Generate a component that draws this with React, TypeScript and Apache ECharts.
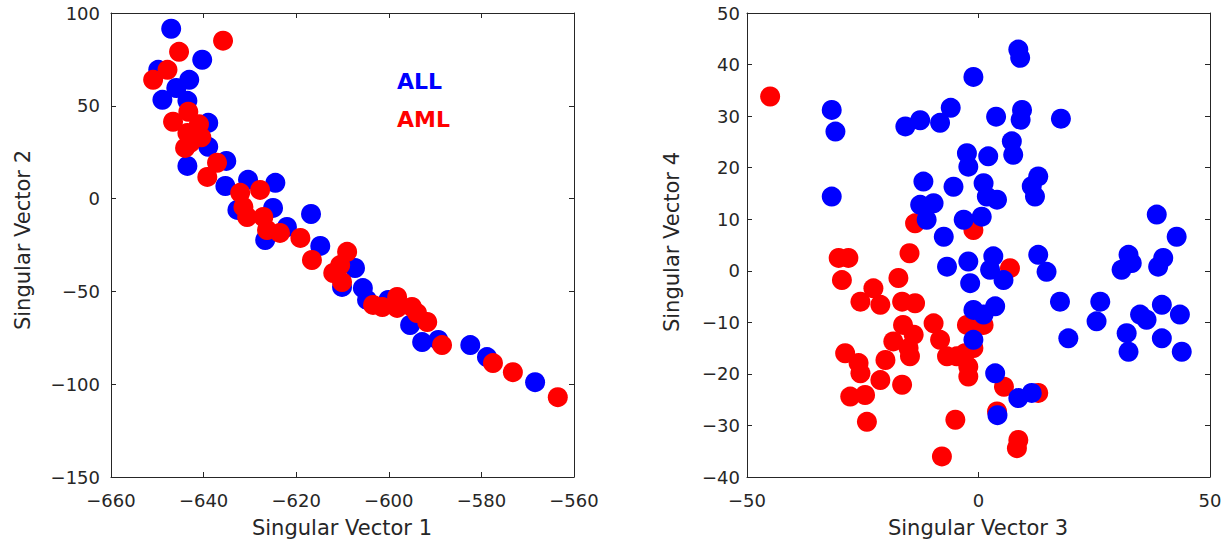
import React, { useEffect, useRef } from "react";
import * as echarts from "echarts";

// Singular vectors 1 & 2 (left panel)
const allSV12: [number, number][] = [
  [-647.0, 91.5], [-640.3, 74.8], [-649.8, 69.4], [-643.1, 64.0], [-648.9, 53.2],
  [-643.5, 52.7], [-645.9, 59.6], [-639.0, 40.8], [-639.0, 27.9], [-643.5, 17.6],
  [-635.1, 20.3], [-635.3, 6.8], [-630.4, 10.1], [-624.5, 8.5], [-632.7, -6.1],
  [-625.0, -5.0], [-616.8, -8.3], [-622.0, -15.3], [-626.7, -22.3], [-614.8, -25.5],
  [-607.3, -37.4], [-610.1, -47.6], [-605.6, -48.2], [-604.7, -54.6], [-600.1, -54.6],
  [-595.4, -68.1], [-592.8, -77.3], [-589.3, -76.2], [-582.4, -78.9], [-578.8, -85.4],
  [-568.4, -98.9],
];
const amlSV12: [number, number][] = [
  [-635.8, 85.1], [-645.3, 79.1], [-647.8, 69.4], [-650.9, 64.0], [-643.3, 46.8],
  [-646.6, 41.4], [-643.5, 35.4], [-642.9, 30.0], [-644.0, 27.3], [-641.0, 40.0],
  [-640.5, 33.0], [-637.1, 19.3],
  [-639.2, 11.7], [-632.1, 3.1], [-627.8, 4.7], [-631.4, -4.5], [-630.6, -9.9],
  [-627.1, -9.9], [-626.3, -16.9], [-623.5, -18.5], [-619.1, -21.2], [-616.6, -33.1],
  [-609.0, -28.7], [-610.5, -35.8], [-612.0, -40.1], [-610.1, -45.0], [-603.4, -57.3],
  [-601.4, -58.4], [-598.2, -53.0], [-598.2, -58.9], [-595.0, -58.4], [-593.9, -61.7],
  [-591.7, -66.5], [-588.5, -78.9], [-577.5, -88.6], [-573.2, -93.5], [-563.5, -107.0],
];

// Singular vectors 3 & 4 (right panel)
const allSV34: [number, number][] = [
  [-31.7, 31.2], [-30.9, 27.0], [-31.7, 14.4], [-15.8, 28.0], [-12.6, 29.2],
  [-8.3, 28.7], [-6.0, 31.6], [-1.1, 37.6], [3.8, 29.9], [-2.5, 22.8],
  [-2.2, 20.2], [2.1, 22.2], [-11.9, 17.3], [-5.4, 16.3], [1.1, 17.0],
  [-12.6, 12.8], [-9.7, 13.1], [-11.2, 9.9], [-7.5, 6.6], [-3.2, 9.9],
  [0.7, 10.5], [1.8, 14.4], [8.6, 42.9], [9.0, 41.3], [9.4, 31.2],
  [9.1, 29.3], [17.8, 29.5], [7.2, 25.1], [7.5, 22.5], [4.0, 13.8],
  [12.9, 18.3], [11.5, 16.4], [12.2, 14.4], [38.5, 10.9], [42.8, 6.6],
  [32.4, 3.1], [33.1, 1.5], [30.9, 0.2], [39.9, 2.5], [38.8, 0.8],
  [12.9, 3.1], [14.7, -0.2], [3.2, 2.8], [2.5, 0.2], [5.4, -1.8],
  [-2.2, 1.8], [-1.8, -2.4], [-6.8, 0.8], [17.6, -6.0], [26.3, -6.0],
  [25.5, -9.8], [19.4, -13.1], [34.9, -8.5], [36.3, -9.5], [32.0, -12.1],
  [32.4, -15.7], [39.6, -6.6], [43.5, -8.5], [39.6, -13.1], [43.9, -15.7],
  [-1.1, -7.6], [3.6, -6.9], [1.1, -8.5], [-1.1, -13.4], [3.6, -19.9],
  [8.6, -24.7], [11.5, -23.7], [4.1, -28.0],
];
const amlSV34: [number, number][] = [
  [-45.0, 33.8], [-13.7, 9.2], [-1.1, 7.9], [6.8, 0.5], [-0.4, -10.8],
  [1.1, -10.5], [-1.1, -15.0], [-4.7, -16.6], [5.5, -22.5], [12.9, -23.7],
  [4.0, -27.3], [-5.0, -28.9], [8.6, -32.8], [8.3, -34.4], [-30.2, 2.5],
  [-28.1, 2.5], [-29.5, -1.8], [-14.9, 3.4], [-17.3, -1.4], [-22.7, -3.4],
  [-25.5, -6.0], [-21.2, -6.6], [-16.5, -6.0], [-13.7, -6.3], [-16.3, -10.5],
  [-14.0, -12.4], [-18.4, -13.7], [-15.1, -15.0], [-14.8, -16.6], [-9.7, -10.2],
  [-8.3, -13.4], [-6.8, -16.6], [-2.5, -10.5], [-2.9, -16.0], [-2.2, -18.6],
  [-2.2, -20.5], [-28.8, -16.0], [-25.9, -17.9], [-25.5, -19.9], [-20.1, -17.3],
  [-21.2, -21.2], [-16.5, -22.1], [-27.7, -24.4], [-24.5, -24.1], [-24.1, -29.3],
  [-7.9, -36.0],
];

const axisTitles = ["Singular Vector 1", "Singular Vector 2", "Singular Vector 3", "Singular Vector 4"];
const legendLabels = ["ALL", "AML"];
const BLUE = "#0000ff";
const RED = "#ff0000";
const AX = "#262626";
const FONT = "DejaVu Sans";

const fmt = (v: number) => (v < 0 ? "\u2212" + Math.abs(v) : String(v));

function axis(
  gridIndex: number,
  position: string,
  min: number,
  max: number,
  interval: number,
  showLabel: boolean,
  margin: number
) {
  return {
    type: "value",
    gridIndex,
    position,
    min,
    max,
    interval,
    axisLine: { show: true, onZero: false, lineStyle: { color: AX, width: 1 } },
    axisTick: { show: true, inside: true, length: 5, lineStyle: { color: AX } },
    axisLabel: {
      show: showLabel,
      margin,
      color: AX,
      fontFamily: FONT,
      fontSize: 18,
      formatter: fmt,
    },
    splitLine: { show: false },
  };
}

export default function App() {
  const ref = useRef<HTMLDivElement>(null);
  useEffect(() => {
    if (!ref.current) return;
    const chart = echarts.init(ref.current, undefined, { renderer: "svg" });
    const option: any = {
      animation: false,
      backgroundColor: "#ffffff",
      grid: [
        { left: 111, top: 13, width: 463, height: 464 },
        { left: 747, top: 13, width: 463, height: 464 },
      ],
      xAxis: [
        axis(0, "bottom", -660, -560, 20, true, 14),
        axis(0, "top", -660, -560, 20, false, 8),
        axis(1, "bottom", -50, 50, 50, true, 14),
        axis(1, "top", -50, 50, 50, false, 8),
      ],
      yAxis: [
        axis(0, "left", -150, 100, 50, true, 11),
        axis(0, "right", -150, 100, 50, false, 8),
        axis(1, "left", -40, 50, 10, true, 7),
        axis(1, "right", -40, 50, 10, false, 8),
      ],
      series: [
        {
          name: legendLabels[0], type: "scatter", xAxisIndex: 0, yAxisIndex: 0,
          data: allSV12, symbolSize: 20, itemStyle: { color: BLUE, opacity: 1 },
        },
        {
          name: legendLabels[1], type: "scatter", xAxisIndex: 0, yAxisIndex: 0,
          data: amlSV12, symbolSize: 20, itemStyle: { color: RED, opacity: 1 },
        },
        {
          name: legendLabels[1], type: "scatter", xAxisIndex: 2, yAxisIndex: 2,
          data: amlSV34, symbolSize: 20, itemStyle: { color: RED, opacity: 1 },
        },
        {
          name: legendLabels[0], type: "scatter", xAxisIndex: 2, yAxisIndex: 2,
          data: allSV34, symbolSize: 20, itemStyle: { color: BLUE, opacity: 1 },
        },
      ],
      graphic: [
        {
          type: "text", x: 342, y: 528,
          style: { text: axisTitles[0], fontFamily: FONT, fontSize: 21, fill: AX, align: "center", verticalAlign: "middle" },
        },
        {
          type: "text", x: 23, y: 240, rotation: Math.PI / 2,
          style: { text: axisTitles[1], fontFamily: FONT, fontSize: 21, fill: AX, align: "center", verticalAlign: "middle" },
        },
        {
          type: "text", x: 978, y: 528,
          style: { text: axisTitles[2], fontFamily: FONT, fontSize: 21, fill: AX, align: "center", verticalAlign: "middle" },
        },
        {
          type: "text", x: 672, y: 242, rotation: Math.PI / 2,
          style: { text: axisTitles[3], fontFamily: FONT, fontSize: 21, fill: AX, align: "center", verticalAlign: "middle" },
        },
        {
          type: "text", x: 397, y: 81,
          style: { text: legendLabels[0], fontFamily: FONT, fontWeight: "bold", fontSize: 22, fill: BLUE, align: "left", verticalAlign: "middle" },
        },
        {
          type: "text", x: 397, y: 119,
          style: { text: legendLabels[1], fontFamily: FONT, fontWeight: "bold", fontSize: 22, fill: RED, align: "left", verticalAlign: "middle" },
        },
      ],
    };
    chart.setOption(option);
    return () => chart.dispose();
  }, []);
  return (
    <div
      ref={ref}
      style={{ position: "absolute", left: 0, top: 0, width: 1230, height: 543, background: "#fff" }}
    />
  );
}
